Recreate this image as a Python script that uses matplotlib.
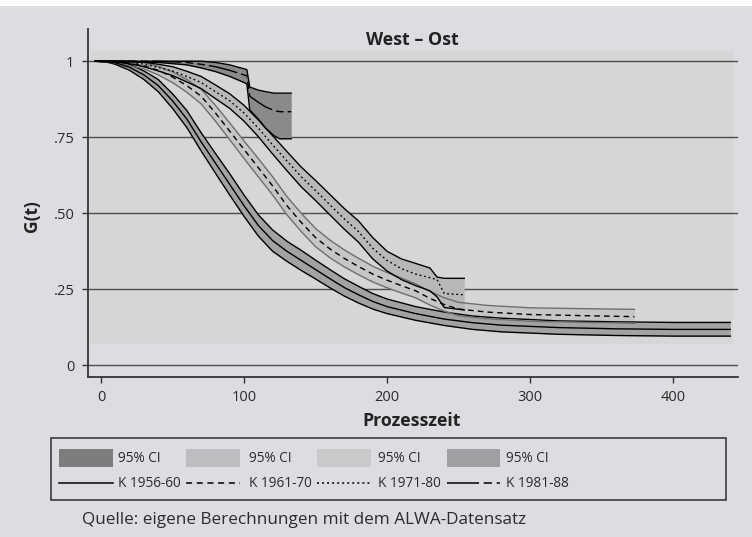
import matplotlib
matplotlib.use("Agg")
import matplotlib.pyplot as plt
from matplotlib import font_manager
from matplotlib.patches import Rectangle
from matplotlib.lines import Line2D

# Kaplan-Meier curves: time, G(t), lower CI, upper CI
t_5660 = [-4, 5, 10, 20, 30, 40, 50, 60, 70, 80, 90, 100, 110, 120, 130, 140, 150, 160,
          170, 180, 190, 200, 220, 240, 260, 280, 320, 360, 400, 440]
g_5660 = [1, .998, .995, .98, .955, .92, .87, .81, .735, .665, .595, .525, .46, .41, .375,
          .345, .315, .285, .256, .232, .21, .193, .17, .152, .14, .132, .124, .12, .118, .118]
lo_5660 = [1, .996, .99, .97, .94, .9, .845, .782, .705, .632, .56, .49, .425, .375, .342,
           .312, .284, .255, .228, .205, .185, .17, .148, .131, .118, .11, .102, .098, .096, .096]
hi_5660 = [1, 1, 1, .99, .968, .94, .893, .838, .765, .697, .63, .56, .495, .445, .408,
           .378, .346, .315, .285, .26, .236, .218, .193, .175, .162, .155, .146, .143, .141, .141]

t_6170 = [-4, 10, 20, 30, 40, 50, 60, 70, 80, 90, 100, 110, 120, 130, 140, 150, 160, 170,
          180, 190, 200, 210, 220, 230, 240, 250, 270, 300, 340, 373]
g_6170 = [1, .998, .993, .985, .97, .948, .92, .885, .83, .77, .71, .65, .59, .525, .47, .42,
          .383, .352, .325, .3, .28, .262, .245, .22, .2, .185, .175, .167, .163, .16]
lo_6170 = [1, .995, .985, .975, .955, .93, .898, .86, .803, .742, .68, .62, .56, .495, .44,
           .39, .354, .324, .298, .274, .255, .238, .222, .198, .178, .163, .153, .145, .141, .138]
hi_6170 = [1, 1, 1, .995, .983, .965, .94, .908, .855, .797, .738, .68, .62, .555, .5, .45,
           .412, .38, .352, .326, .305, .287, .268, .243, .222, .207, .197, .189, .186, .184]

t_7180 = [-4, 10, 20, 30, 40, 50, 60, 70, 80, 90, 100, 110, 120, 130, 140, 150, 160, 170,
          180, 190, 200, 210, 220, 230, 235, 240, 254]
g_7180 = [1, 1, .997, .99, .98, .968, .95, .93, .9, .87, .83, .78, .725, .672, .62, .575,
          .528, .482, .44, .385, .345, .318, .3, .288, .282, .236, .232]
lo_7180 = [1, .998, .992, .982, .968, .953, .932, .91, .877, .845, .803, .752, .695, .64,
           .587, .542, .495, .448, .405, .35, .31, .282, .262, .245, .225, .19, .182]
hi_7180 = [1, 1, 1, .997, .99, .982, .967, .95, .922, .893, .855, .807, .755, .703, .652,
           .608, .562, .516, .475, .42, .375, .35, .335, .32, .29, .286, .286]

t_8188 = [-4, 40, 60, 70, 80, 90, 100, 102, 104, 110, 115, 121, 125, 133]
g_8188 = [1, 1, .996, .99, .982, .97, .955, .952, .885, .865, .85, .838, .834, .834]
lo_8188 = [1, .996, .988, .978, .966, .95, .93, .925, .84, .81, .78, .755, .745, .745]
hi_8188 = [1, 1, 1, 1, .996, .988, .975, .972, .915, .905, .9, .895, .895, .895]

yticks = [0, .25, .5, .75, 1]
ytick_labels = ["0", ".25", ".50", ".75", "1"]
xticks = [0, 100, 200, 300, 400]
legend_labels = ["K 1956-60", "K 1961-70", "K 1971-80", "K 1981-88"]

W, H = 752, 537
plt.rcParams["font.family"] = ["Open Sans", "DejaVu Sans"]

# narrow face for ticks and legend, like the original; fall back if missing
installed = {f.name for f in font_manager.fontManager.ttflist}
if "Liberation Sans Narrow" in installed:
    NARROW = ["Liberation Sans Narrow", "DejaVu Sans"]
    tick_size, leg_size = 12.5, 11.5
else:
    NARROW = ["Open Sans", "DejaVu Sans"]
    tick_size, leg_size = 10.5, 9.8
TXT = "#2b2b2b"

bg = "#dcdde0"
fig = plt.figure(figsize=(W / 100, H / 100), dpi=100)
fig.patch.set_facecolor(bg)
fig.patches.append(Rectangle((0, 1 - 6 / H), 1, 6 / H, transform=fig.transFigure,
                             fc="white", ec="none"))

ax = fig.add_axes([87.7 / W, 1 - 376.7 / H, 650 / W, 347.4 / H])
ax.set_facecolor("none")
ax.set_xlim(-9.3, 445.2)
ax.set_ylim(-0.0375, 1.105)
ax.add_patch(Rectangle((-7.7, 0.07), 449.7, 0.962, fc="#d6d6d6", ec="none", zorder=0))
for y in yticks:
    ax.axhline(y, color="#4d4d4d", lw=1, zorder=1)

for s in ["top", "right"]:
    ax.spines[s].set_visible(False)
for s in ["left", "bottom"]:
    ax.spines[s].set_color("#333333")
    ax.spines[s].set_linewidth(1.3)

ax.set_yticks(yticks)
ax.set_yticklabels(ytick_labels)
ax.set_xticks(xticks)
ax.tick_params(axis="both", length=4.5, width=1, color="#333333", labelsize=tick_size,
               labelcolor=TXT)
ax.tick_params(axis="y", pad=5)
ax.tick_params(axis="x", pad=5)
for lab in ax.get_xticklabels() + ax.get_yticklabels():
    lab.set_family(NARROW)

dash_styles = ["-", (0, (4, 3)), (0, (1.3, 2)), (0, (21, 3, 5.5, 3, 5.5, 3))]
fills = ["#a2a2a2", "#c6c6c6", "#b8b8b8", "#8a8a8a"]
edges = ["black", "#6e6e6e", "black", "black"]

series = [(t_5660, g_5660, lo_5660, hi_5660), (t_6170, g_6170, lo_6170, hi_6170),
          (t_7180, g_7180, lo_7180, hi_7180), (t_8188, g_8188, lo_8188, hi_8188)]

for i, (t, g, lo, hi) in enumerate(series):
    ax.fill_between(t, lo, hi, color=fills[i], lw=0, zorder=2 + i * 0.1)
for i, (t, g, lo, hi) in enumerate(series):
    ax.plot(t, lo, color=edges[i], lw=1, zorder=3)
    ax.plot(t, hi, color=edges[i], lw=1, zorder=3)
    ax.plot(t, g, color="black", lw=1, linestyle=dash_styles[i], zorder=4)

fig.text(412 / W, 1 - 40 / H, "West – Ost", ha="center", va="center",
         fontsize=12.8, fontweight="bold", color="#222222")
fig.text(32 / W, 1 - 216 / H, "G(t)", ha="center", va="center", rotation=90,
         fontsize=12.5, fontweight="bold", color="#222222")
fig.text(412 / W, 1 - 421 / H, "Prozesszeit", ha="center", va="center",
         fontsize=12.8, fontweight="bold", color="#222222")

# legend box, drawn by hand in pixel positions
def fx(x):
    return x / W

def fy(y):
    return 1 - y / H

fig.patches.append(Rectangle((fx(50.7), fy(500)), fx(675), 62.3 / H,
                             transform=fig.transFigure, fc="none", ec="#3a3a3a", lw=1.2))
patch_x = [59.3, 186.3, 317.3, 446.7]
patch_cols = ["#7d7d7d", "#bdbdbf", "#c9c9c9", "#a0a0a2"]
text_x = [118, 249, 378, 506]
for i in range(4):
    fig.patches.append(Rectangle((fx(patch_x[i]), fy(466.7)), 53.5 / W, 17.4 / H,
                                 transform=fig.transFigure, fc=patch_cols[i], ec="none"))
    fig.text(fx(text_x[i]), fy(458), "95% CI", ha="left", va="center", fontsize=leg_size,
             color=TXT, family=NARROW)
    fig.lines.append(Line2D([fx(patch_x[i]), fx(patch_x[i] + 53.5)], [fy(483.3), fy(483.3)],
                            transform=fig.transFigure, color="black", lw=1.1,
                            linestyle=dash_styles[i]))
    fig.text(fx(text_x[i]), fy(483.3), legend_labels[i], ha="left", va="center",
             fontsize=leg_size, color=TXT, family=NARROW)

fig.text(fx(82), fy(520), "Quelle: eigene Berechnungen mit dem ALWA-Datensatz",
         ha="left", va="center", fontsize=12.3, color=TXT)

fig.savefig("out.png", dpi=100, facecolor=fig.get_facecolor())
